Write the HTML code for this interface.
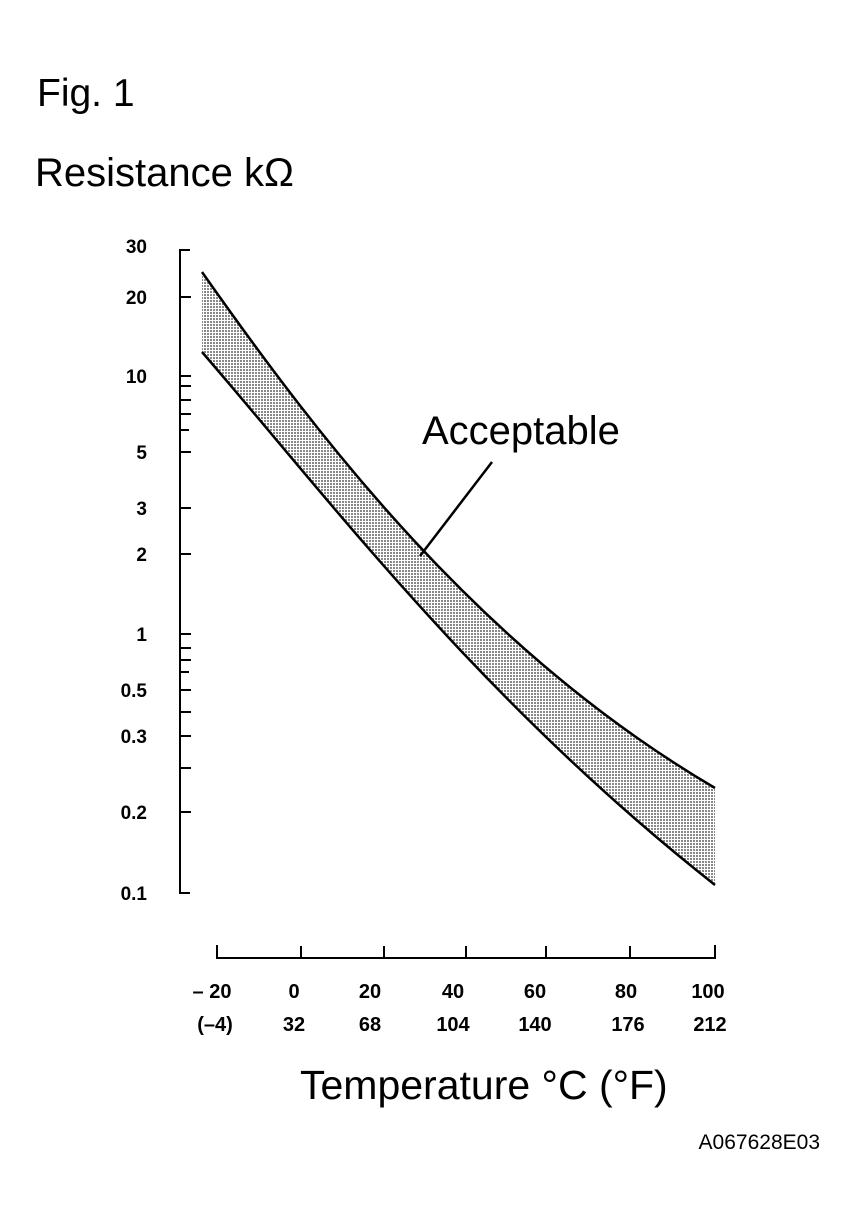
<!DOCTYPE html>
<html><head><meta charset="utf-8"><style>
body{margin:0;background:#fff}
svg{display:block}
text{font-family:"Liberation Sans",sans-serif;fill:#000}
</style></head><body>
<svg width="857" height="1225" viewBox="0 0 857 1225" xmlns="http://www.w3.org/2000/svg">
<defs>
<pattern id="st" width="3" height="3" patternUnits="userSpaceOnUse">
<rect width="3" height="3" fill="#fff"/><rect width="2" height="2" fill="#888"/>
</pattern>
</defs>
<text x="37" y="106" font-size="39">Fig. 1</text>
<text x="35" y="186" font-size="40">Resistance kΩ</text>
<g font-size="19" font-weight="bold" text-anchor="end">
<text x="147" y="253">30</text><text x="147" y="304">20</text><text x="147" y="383">10</text>
<text x="147" y="459">5</text><text x="147" y="515">3</text><text x="147" y="561">2</text>
<text x="147" y="641">1</text><text x="147" y="697">0.5</text><text x="147" y="743">0.3</text>
<text x="147" y="819">0.2</text><text x="147" y="900">0.1</text>
</g>
<g stroke="#000" stroke-width="2" fill="none">
<path d="M190 250H180V893H190"/>
<path d="M180 297h11M180 376h11M180 386h11M180 400h11M180 414h11M180 430h9M180 452h11M180 508h11M180 554h11M180 634h11M180 648h11M180 660h11M180 672h9M180 690h11M180 712h11M180 736h11M180 768h11M180 812h11"/>
<path d="M217 945V958H715V945M301 958v-12M384 958v-12M466 958v-12M546 958v-12M630 958v-12"/>
</g>
<path d="M202 272 C320 440 480 650 715 788 L715 885 C480 700 330 500 202 352 Z" fill="url(#st)" stroke="none"/>
<path d="M202 272 C320 440 480 650 715 788" fill="none" stroke="#000" stroke-width="2.5"/>
<path d="M202 352 C330 500 480 700 715 885" fill="none" stroke="#000" stroke-width="2.5"/>
<path d="M492 462 L420 556" stroke="#000" stroke-width="2.5"/>
<text x="422" y="444" font-size="40">Acceptable</text>
<g font-size="20" font-weight="bold" text-anchor="middle">
<text x="212" y="998">– 20</text><text x="294" y="998">0</text><text x="370" y="998">20</text>
<text x="453" y="998">40</text><text x="535" y="998">60</text><text x="626" y="998">80</text><text x="708" y="998">100</text>
<text x="215" y="1031">(–4)</text><text x="294" y="1031">32</text><text x="370" y="1031">68</text>
<text x="453" y="1031">104</text><text x="535" y="1031">140</text><text x="628" y="1031">176</text><text x="710" y="1031">212</text>
</g>
<text x="300" y="1099" font-size="41">Temperature °C (°F)</text>
<text x="820" y="1149" font-size="21" text-anchor="end">A067628E03</text>
</svg>
</body></html>
